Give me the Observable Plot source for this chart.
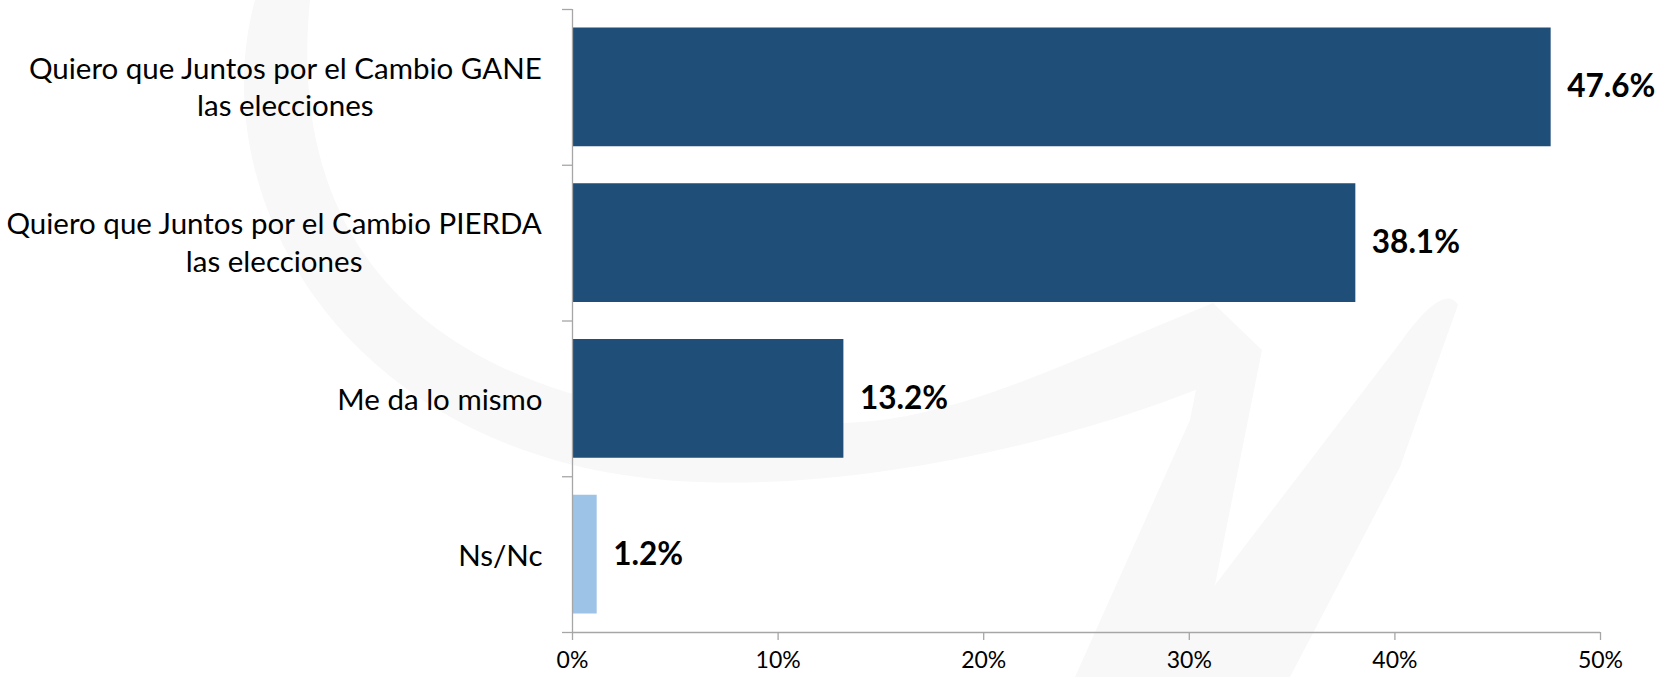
<!DOCTYPE html>
<html><head><meta charset="utf-8">
<script src="https://cdn.jsdelivr.net/npm/d3@7"></script>
<script src="https://cdn.jsdelivr.net/npm/@observablehq/plot@0.6"></script>
<style>body{margin:0;background:#fff}</style>
</head><body><div id="chart"></div>
<script>
const categories = [
  "Quiero que Juntos por el Cambio GANE\nlas elecciones",
  "Quiero que Juntos por el Cambio PIERDA\nlas elecciones",
  "Me da lo mismo",
  "Ns/Nc"
];
const values = [47.6, 38.1, 13.2, 1.2];
const barColors = ["#1F4E79", "#1F4E79", "#1F4E79", "#9DC3E6"];
const xTicks = [0, 10, 20, 30, 40, 50];
const yBoundaries = [0, 1, 2, 3, 4];

const data = categories.map((label, i) => ({label, value: values[i], color: barColors[i], i0: i, i1: i + 1, mid: i + 0.5}));

const FONT = "Lato";
const catSize = 29.5;
const canvas = document.createElement("canvas");
const ctx = canvas.getContext("2d");
ctx.font = `${catSize}px ${FONT}`;
const gap = 30;

const labelMarks = data.map(d => {
  const w = Math.max(...d.label.split("\n").map(s => ctx.measureText(s).width));
  const multi = d.label.includes("\n");
  return Plot.text([d], {x: () => 0, y: "mid", text: "label", textAnchor: "middle", dx: -(gap + w / 2), dy: multi ? -2 : -1, fontSize: catSize, lineHeight: 1.28, fill: "#000"});
});

const axisGray = "#a6a6a6";
const chart = Plot.plot({
  width: 1668, height: 677,
  marginLeft: 572, marginRight: 68, marginTop: 9, marginBottom: 45,
  style: {fontFamily: FONT, background: "transparent", color: "#000"},
  x: {domain: [0, 50]},
  y: {domain: [0, 4], reverse: true},
  marks: [
    Plot.rectX(data, {x1: () => 0, x2: "value", y1: "i0", y2: "i1", insetTop: 18.5, insetBottom: 18.5, fill: "color"}),
    Plot.ruleX([0], {stroke: axisGray, strokeWidth: 1.3}),
    Plot.ruleY([4], {stroke: axisGray, strokeWidth: 1.3}),
    Plot.axisY({ticks: yBoundaries, tickSize: 10, tickFormat: () => "", stroke: axisGray, strokeWidth: 1.3, label: null}),
    Plot.axisX({ticks: xTicks, tickSize: 8, tickPadding: 11, tickFormat: d => d + "%", fontSize: 23, stroke: axisGray, strokeWidth: 1.3, fill: "#000", label: null}),
    ...labelMarks,
    Plot.text(data, {x: "value", y: "mid", text: d => d.value.toFixed(1) + "%", textAnchor: "start", dx: 16, fontSize: 31.5, fontWeight: "bold", fill: "#000"})
  ]
});

// faint background watermark (decorative)
const ns = "http://www.w3.org/2000/svg";
const g = document.createElementNS(ns, "g");
[
  "M255,0 C200,200 350,470 700,482 C850,488 1050,450 1213,383 L1213,303 C1050,370 950,420 843,423 C500,435 280,300 310,0 Z",
  "M1213,303 L1262,350 L1215,585 L1400,343 C1430,300 1450,290 1458,305 L1400,467 L1290,677 L1075,677 L1190,420 Z"
].forEach(p => {
  const path = document.createElementNS(ns, "path");
  path.setAttribute("d", p);
  path.setAttribute("fill", "#f8f8f8");
  g.appendChild(path);
});
const firstMark = chart.querySelector("style") ? chart.querySelector("style").nextSibling : chart.firstChild;
chart.insertBefore(g, firstMark);

document.getElementById("chart").appendChild(chart);
</script>
</body></html>
